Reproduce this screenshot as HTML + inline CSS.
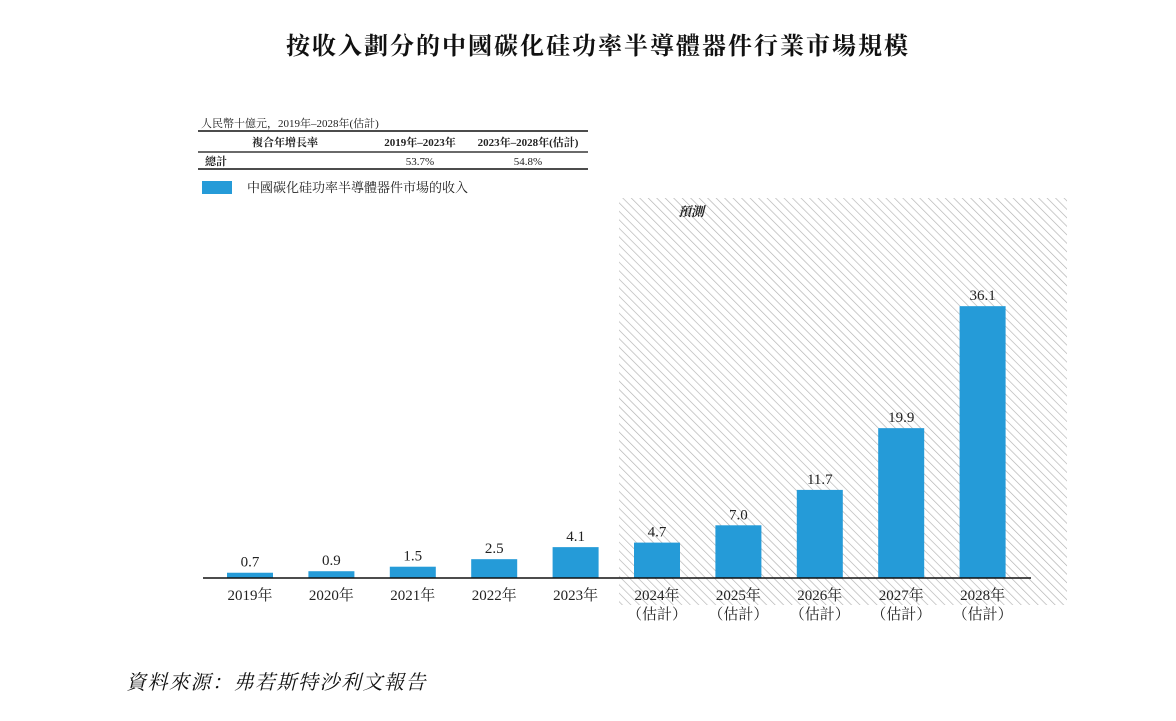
<!DOCTYPE html>
<html><head><meta charset="utf-8"><style>
body{margin:0;background:#fff;width:1176px;height:716px;overflow:hidden;font-family:"Liberation Serif","Noto Serif CJK SC","Noto Sans CJK TC",serif;}
svg text{font-family:"Liberation Serif","Noto Serif CJK SC","Noto Sans CJK TC",serif;}
</style></head><body>
<svg id="chart" width="1176" height="716">
<defs>
<pattern id="hatch" width="6" height="6" patternUnits="userSpaceOnUse" patternTransform="rotate(-45)">
<line x1="0" y1="0" x2="0" y2="6" stroke="#b0b0b0" stroke-width="1.3"/>
</pattern>
</defs>
<text x="598" y="54" text-anchor="middle" font-size="24" font-weight="bold" letter-spacing="2" fill="#111">按收入劃分的中國碳化硅功率半導體器件行業市場規模</text>
<g>
<text x="201" y="127" font-size="11" fill="#222">人民幣十億元，2019年–2028年(估計)</text>
<line x1="198" y1="131" x2="588" y2="131" stroke="#111" stroke-width="1.6"/>
<text x="252" y="146" font-size="11" font-weight="bold" fill="#222">複合年增長率</text>
<text x="420" y="146" text-anchor="middle" font-size="11" font-weight="bold" fill="#222">2019年–2023年</text>
<text x="528" y="146" text-anchor="middle" font-size="11" font-weight="bold" fill="#222">2023年–2028年(估計)</text>
<line x1="198" y1="152" x2="588" y2="152" stroke="#111" stroke-width="1.2"/>
<text x="205" y="165" font-size="11" font-weight="bold" fill="#222">總計</text>
<text x="420" y="165" text-anchor="middle" font-size="11" fill="#222">53.7%</text>
<text x="528" y="165" text-anchor="middle" font-size="11" fill="#222">54.8%</text>
<line x1="198" y1="169" x2="588" y2="169" stroke="#111" stroke-width="1.6"/>
</g>
<g>
<rect x="202" y="181" width="30" height="13" fill="#259bd8"/>
<text x="247" y="192" font-size="13" fill="#222">中國碳化硅功率半導體器件市場的收入</text>
</g>
<rect x="619" y="198" width="448" height="407" fill="url(#hatch)"/>
<text x="678" y="216" font-size="13" font-style="italic" font-weight="bold" fill="#222">預測</text>
<g id="bars"></g>
<line x1="203" y1="578" x2="1031" y2="578" stroke="#111" stroke-width="1.5"/>
<text x="126" y="689" font-size="20" font-style="italic" letter-spacing="1.5" fill="#111">資料來源：弗若斯特沙利文報告</text>
</svg>
<script>
const categories=["2019年","2020年","2021年","2022年","2023年","2024年","2025年","2026年","2027年","2028年"];
const estimated=[false,false,false,false,false,true,true,true,true,true];
const values=[0.7,0.9,1.5,2.5,4.1,4.7,7.0,11.7,19.9,36.1];
const labels=["0.7","0.9","1.5","2.5","4.1","4.7","7.0","11.7","19.9","36.1"];
const ns="http://www.w3.org/2000/svg";
const g=document.getElementById("bars");
const y=v=>578-v*7.53;
const xc=i=>250+i*81.4;
const bw=46;
values.forEach((v,i)=>{
  const r=document.createElementNS(ns,"rect");
  r.setAttribute("x",xc(i)-bw/2);r.setAttribute("y",y(v));
  r.setAttribute("width",bw);r.setAttribute("height",578-y(v));
  r.setAttribute("fill","#259bd8");
  
  
  g.appendChild(r);
  const t=document.createElementNS(ns,"text");
  t.setAttribute("x",xc(i));t.setAttribute("y",y(v)-6);
  t.setAttribute("text-anchor","middle");t.setAttribute("font-size","15");t.setAttribute("fill","#222");
  t.textContent=labels[i];
  
  
  g.appendChild(t);
  const c=document.createElementNS(ns,"text");
  c.setAttribute("x",xc(i));c.setAttribute("y",600);
  c.setAttribute("text-anchor","middle");c.setAttribute("font-size","15");c.setAttribute("fill","#222");
  c.textContent=categories[i];
  
  
  g.appendChild(c);
  if(estimated[i]){
    const e=document.createElementNS(ns,"text");
    e.setAttribute("x",xc(i));e.setAttribute("y",619);
    e.setAttribute("text-anchor","middle");e.setAttribute("font-size","15");e.setAttribute("fill","#222");
    e.textContent="（估計）";
    
    
    g.appendChild(e);
  }
});
</script>
</body></html>
